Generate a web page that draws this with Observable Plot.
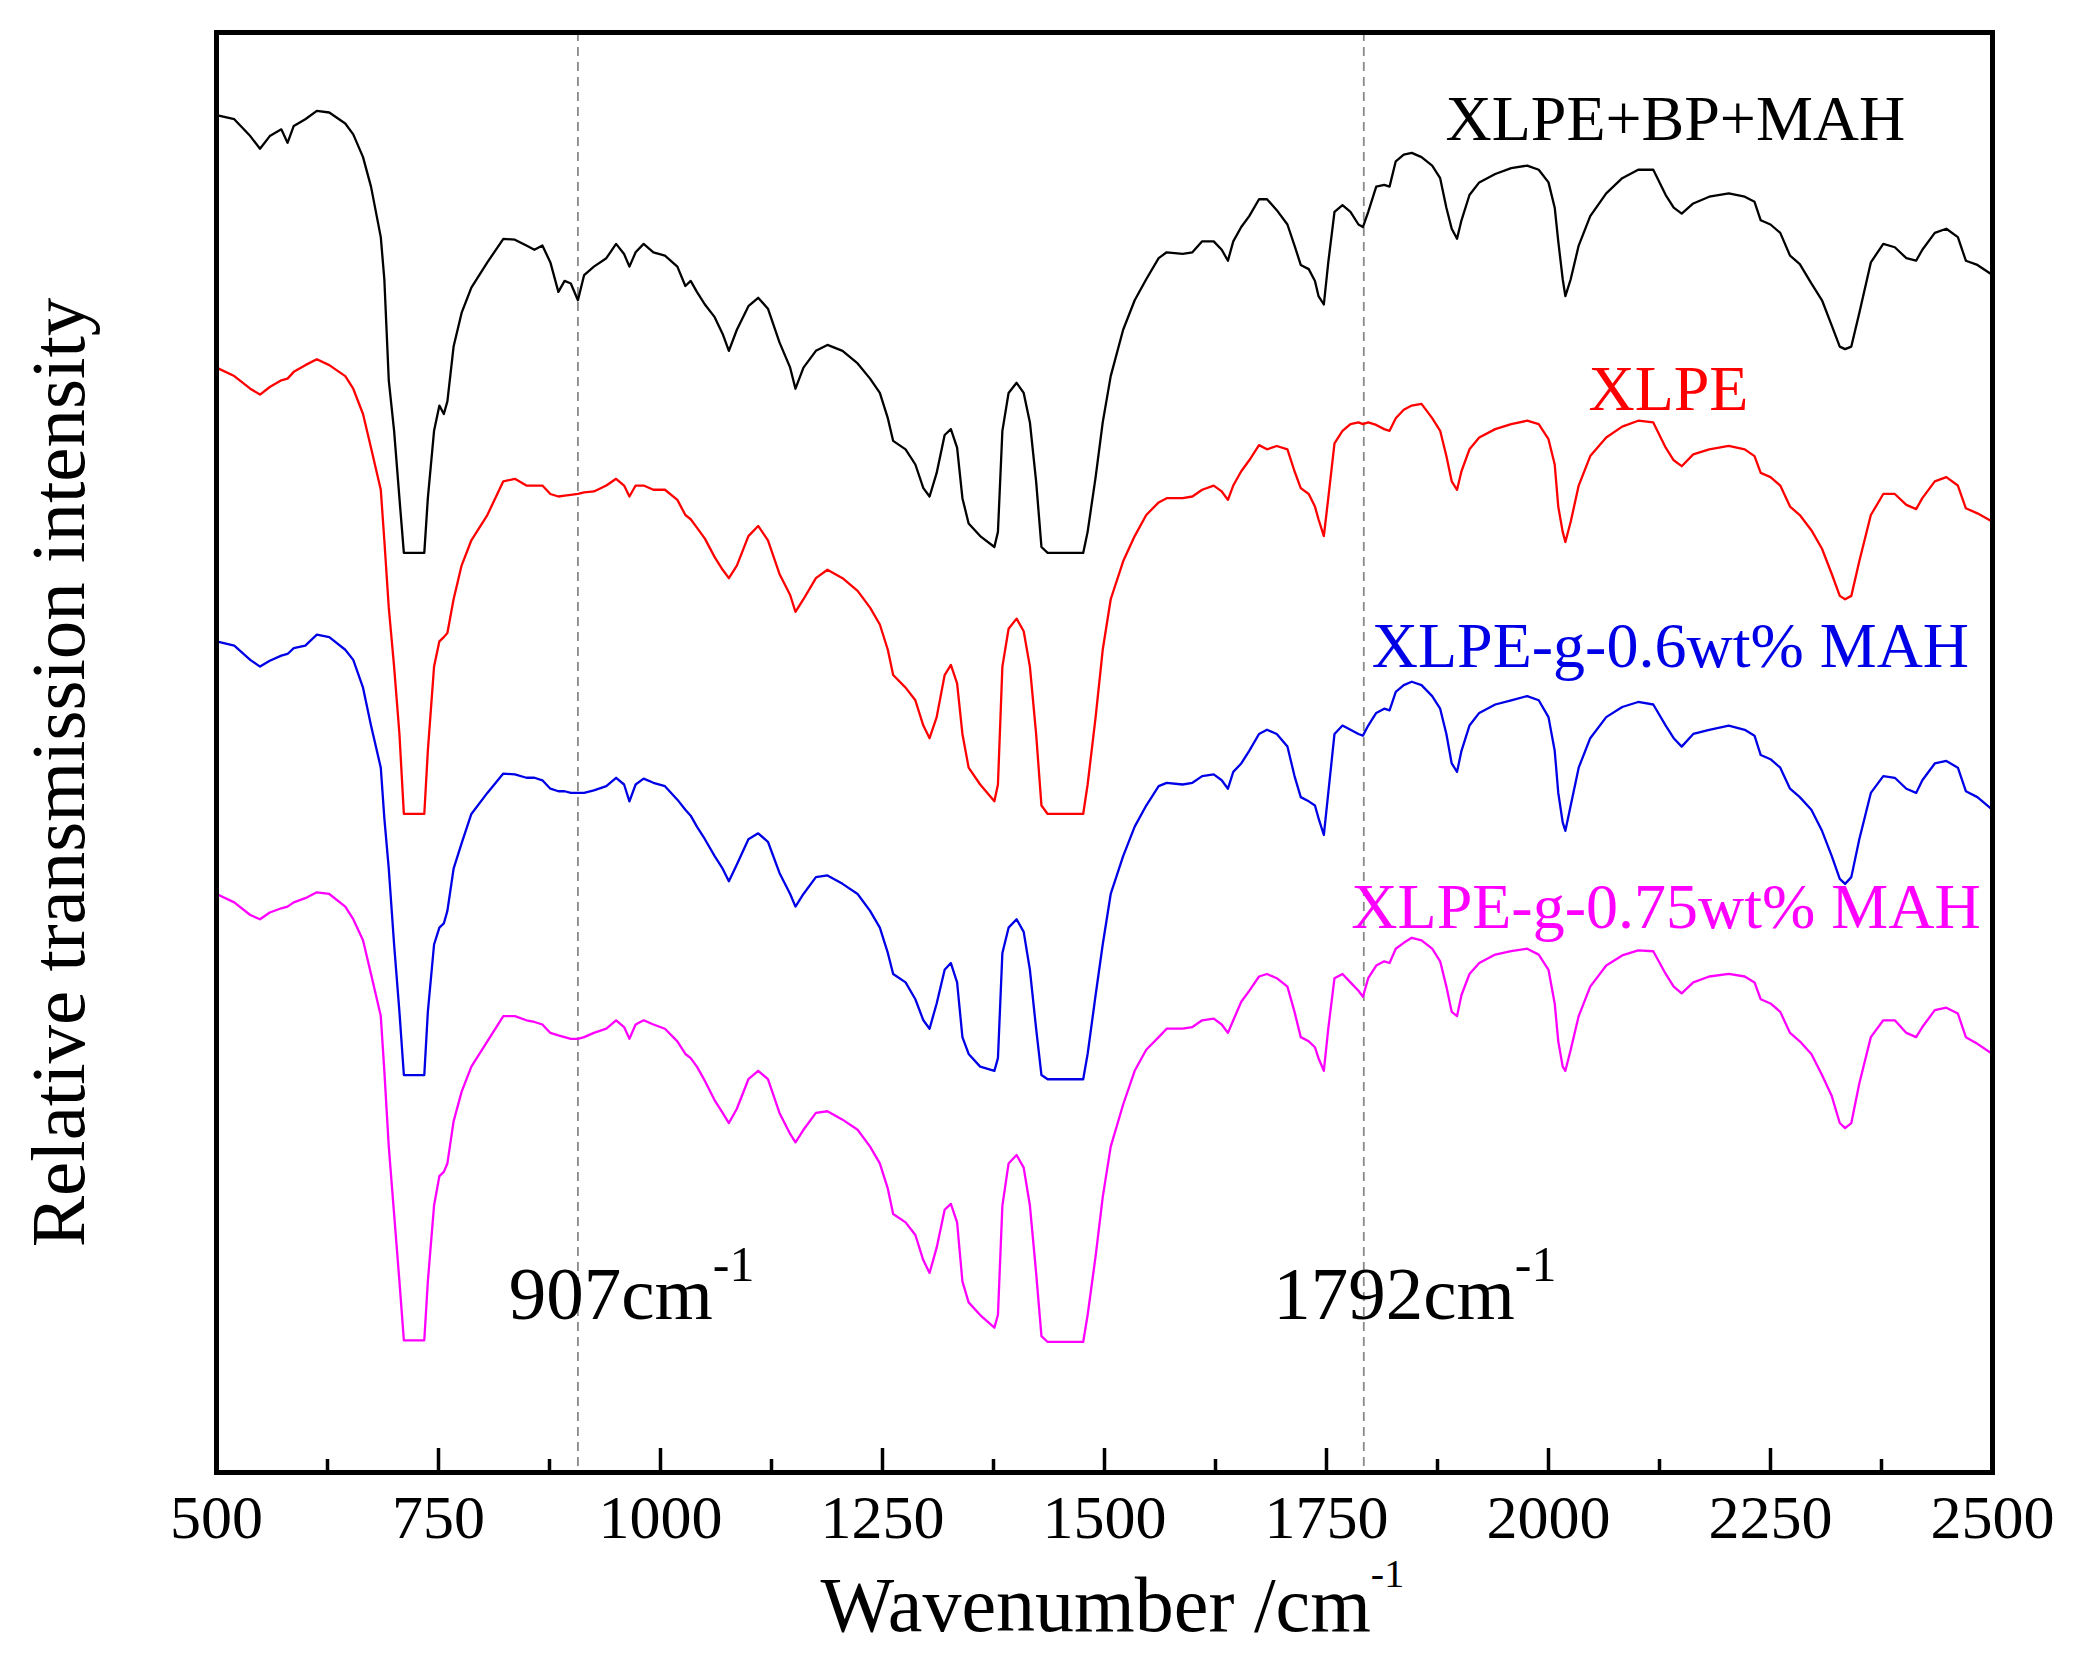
<!DOCTYPE html>
<html>
<head>
<meta charset="utf-8">
<script src="https://cdn.jsdelivr.net/npm/d3@7"></script>
<script src="https://cdn.jsdelivr.net/npm/@observablehq/plot@0.6"></script>
<style>
  html, body { margin: 0; padding: 0; background: #fff; }
  #chart svg { display: block; }
  #chart svg, #chart svg text { font-family: "Liberation Serif", "Times New Roman", serif !important; }
</style>
</head>
<body>
<div id="chart"></div>
<script>
// wavenumber grid (cm-1) shared by the four spectra
var wavenumber = [500,520,538,549,560,573,580,587,600,613,
  627,645,654,665,674,685,689,694,700,706,
  711,734,738,745,751,756,760,767,776,787,
  805,823,836,849,858,867,876,885,892,899,
  907,914,925,939,950,959,965,972,981,992,
  1005,1019,1028,1034,1041,1050,1061,1070,1077,1086,
  1099,1110,1121,1134,1146,1152,1161,1175,1188,
  1205,1222,1236,1247,1256,1262,1276,1287,1296,1303,
  1311,1320,1327,1334,1340,1347,1360,1376,1380,1385,
  1392,1401,1409,1416,1423,1429,1436,1476,1481,1490,
  1498,1507,1521,1534,1547,1561,1570,1588,1599,1610,
  1623,1632,1639,1645,1654,1663,1674,1683,1694,1706,
  1714,1721,1730,1737,1741,1747,1752,1759,1768,1777,
  1786,1791,1797,1806,1815,1821,1828,1837,1846,1857,
  1869,1878,1885,1891,1897,1902,1911,1922,1940,1958,
  1976,1989,2000,2007,2011,2016,2019,2025,2034,2047,
  2065,2083,2101,2118,2132,2141,2150,2163,2181,2203,
  2221,2232,2239,2250,2261,2272,2283,2296,2308,2319,
  2328,2334,2341,2350,2363,2377,2390,2403,2414,2421,
  2435,2448,2461,2470,2483,2500];

// relative transmission (arbitrary units, curves already offset)
var xlpeBpMah = [161.2,160.7,158.7,157.2,158.7,159.5,157.9,159.9,160.7,161.7,
  161.5,160.2,158.9,156.2,152.7,146.7,141.7,129.7,123.7,115.7,
  109.2,109.2,115.7,123.7,126.7,125.7,127.2,133.7,137.7,140.7,
  143.7,146.5,146.4,145.7,145.2,145.7,143.7,140.2,141.5,141.2,
  139.2,142.2,143.2,144.2,145.9,144.7,143.2,144.9,145.9,144.9,
  144.5,143.2,140.9,141.5,140.2,138.7,137.2,135.2,133.2,135.7,
  138.5,139.5,138.2,134.2,131.2,128.7,131.2,133.2,133.9,
  133.2,131.7,129.9,128.2,125.2,122.5,121.5,119.7,116.9,115.9,
  118.7,123.2,123.9,121.7,115.7,112.7,111.2,109.9,111.7,123.7,
  128.2,129.4,128.2,124.7,117.7,109.9,109.2,109.2,111.7,118.2,
  124.7,130.2,135.7,139.2,141.7,144.2,144.9,144.7,144.9,146.2,
  146.2,145.2,143.9,146.2,147.9,149.2,151.2,151.2,149.9,148.2,
  145.7,143.4,142.9,141.5,139.7,138.7,143.7,149.7,150.5,149.7,
  148.2,147.9,149.7,152.7,152.9,152.7,155.7,156.5,156.7,156.2,
  155.2,153.7,150.2,147.7,146.5,148.7,151.7,153.2,154.2,154.9,
  155.2,154.7,153.2,150.2,146.2,141.7,139.7,141.7,145.7,149.2,
  151.9,153.7,154.7,154.7,151.7,150.2,149.5,150.7,151.5,151.9,
  151.5,150.9,148.7,148.2,147.2,144.5,143.5,141.2,139.2,136.2,
  133.7,133.4,133.7,137.7,143.7,145.9,145.5,144.2,143.9,145.2,
  147.2,147.7,146.7,143.9,143.4,142.2];

var xlpe = [131.2,130.2,128.7,128.0,128.9,129.7,129.9,130.7,131.5,132.2,
  131.5,130.2,128.7,125.7,121.7,116.7,110.7,102.7,95.7,87.7,
  78.2,78.2,85.7,95.7,98.7,99.2,99.7,103.7,107.7,110.7,
  113.7,117.7,118.0,117.2,117.2,117.2,116.2,115.9,116.0,116.1,
  116.2,116.4,116.5,117.2,118.0,117.2,115.9,117.2,117.2,116.7,
  116.7,115.5,113.7,113.2,112.2,110.9,108.7,107.2,106.2,107.7,
  111.2,112.4,110.7,106.7,104.2,102.2,103.7,106.2,107.2,
  106.2,104.7,102.7,100.7,97.7,94.7,93.2,91.7,88.7,87.2,
  89.7,94.7,95.9,93.7,87.7,83.7,81.7,79.7,81.7,95.7,
  100.2,101.4,99.9,95.7,87.7,79.2,78.2,78.2,81.7,89.7,
  97.7,103.7,108.2,111.2,113.7,115.2,115.7,115.7,115.9,116.7,
  117.2,116.5,115.5,117.2,118.9,120.2,122.0,121.5,121.9,121.5,
  118.9,116.9,116.2,114.7,113.2,111.2,115.7,122.2,123.7,124.5,
  124.7,124.5,124.7,124.4,123.9,123.7,125.2,126.2,126.7,126.9,
  125.2,123.7,120.7,117.7,116.7,118.9,121.5,122.9,123.9,124.5,
  124.9,124.5,122.7,119.7,114.7,111.7,110.5,112.9,117.2,120.7,
  122.9,124.2,124.9,124.7,121.7,120.2,119.5,120.9,121.5,121.9,
  121.5,120.7,118.7,118.2,117.2,114.7,113.7,111.9,109.7,106.7,
  104.1,103.7,104.1,108.2,113.7,116.2,116.2,114.9,114.4,115.7,
  117.7,118.2,117.2,114.5,113.9,112.9];

var xlpeG06 = [98.7,98.2,96.5,95.7,96.4,97.0,97.2,97.9,98.2,99.5,
  99.2,97.7,96.5,93.2,88.7,83.7,77.7,71.7,62.7,54.7,
  47.2,47.2,54.7,62.7,64.7,65.2,66.7,71.7,74.7,78.2,
  80.7,83.0,82.9,82.5,82.5,82.2,81.2,80.9,80.9,80.7,
  80.7,80.7,81.0,81.5,82.5,81.7,79.7,81.7,82.4,81.9,
  81.5,79.9,78.7,78.0,76.7,75.2,73.2,71.7,70.2,72.2,
  75.2,75.9,74.9,71.2,68.7,67.2,68.7,70.7,70.9,
  69.9,68.7,66.7,64.7,61.7,59.2,58.2,56.2,53.7,52.7,
  55.7,59.7,60.5,58.2,51.7,49.7,48.2,47.7,49.2,61.7,
  64.7,65.7,64.2,59.7,52.7,47.2,46.7,46.7,49.7,56.7,
  62.7,68.7,73.2,76.7,79.2,81.5,81.9,81.7,81.9,82.7,
  82.9,82.2,81.2,83.2,84.2,85.7,87.7,88.2,87.7,86.2,
  82.7,80.2,79.7,79.2,77.7,75.7,80.7,87.7,88.7,88.2,
  87.7,87.5,88.7,90.2,90.7,90.5,92.7,93.5,93.9,93.5,
  92.2,90.7,87.7,84.2,83.2,85.7,88.7,90.2,91.2,91.7,
  92.2,91.7,89.7,85.7,80.7,77.2,76.2,79.2,83.7,87.2,
  89.7,90.9,91.5,91.2,88.7,87.2,86.2,87.7,88.2,88.7,
  88.2,87.5,85.2,84.7,83.7,81.2,80.2,78.7,76.2,73.2,
  70.5,69.9,70.7,75.2,80.7,82.7,82.5,81.2,80.7,82.2,
  84.2,84.5,83.7,80.9,80.2,78.7];

var xlpeG075 = [68.7,67.7,66.2,65.7,66.5,67.0,67.2,67.7,68.2,68.9,
  68.7,67.2,65.7,63.2,59.2,54.2,47.7,38.7,30.7,22.7,
  15.7,15.7,22.7,31.7,35.2,35.7,36.7,41.7,45.2,48.2,
  51.2,54.2,54.2,53.7,53.5,53.2,52.2,51.9,51.7,51.5,
  51.5,51.7,52.2,52.7,53.7,52.9,51.5,53.2,53.7,53.2,
  52.7,51.2,49.7,49.2,48.2,46.5,44.2,42.7,41.5,43.2,
  46.7,47.7,46.7,42.7,40.2,39.2,40.7,42.7,42.9,
  41.9,40.7,38.7,36.7,33.7,30.7,29.7,28.2,25.2,23.7,
  26.7,31.2,31.9,29.7,22.7,20.2,18.7,17.2,18.7,31.7,
  36.7,37.7,36.2,31.7,23.7,16.2,15.5,15.5,18.7,25.7,
  32.7,38.7,43.7,47.7,50.2,51.7,52.7,52.7,52.9,53.7,
  53.9,53.2,52.2,53.7,55.9,57.2,58.9,59.2,58.7,57.7,
  54.7,51.7,51.2,50.5,49.2,47.7,52.7,58.7,59.2,58.2,
  57.2,56.5,58.7,60.2,60.7,60.5,62.2,62.9,63.5,63.2,
  62.2,60.7,57.7,54.7,54.2,56.7,59.2,60.5,61.5,61.9,
  62.2,61.5,59.7,55.7,51.2,48.2,47.7,50.2,54.2,57.7,
  60.2,61.4,62.0,61.9,59.2,57.7,56.9,58.2,58.9,59.2,
  58.9,58.2,56.2,55.7,54.7,52.2,51.2,49.7,47.2,44.7,
  41.5,40.9,41.5,46.2,51.7,53.7,53.7,52.2,51.7,52.9,
  54.9,55.2,54.5,51.7,50.9,49.7];

var seriesNames = ["XLPE+BP+MAH", "XLPE", "XLPE-g-0.6wt% MAH", "XLPE-g-0.75wt% MAH"];
var seriesColors = ["#000000", "#ff0000", "#0000e6", "#ff00ff"];
// where each series name sits (wavenumber, intensity)
var labelX = [1884, 2045, 1801, 1778];
var labelY = [158.2, 126.2, 95.7, 64.7];

var markerLines = [907, 1792];
var markerText = ["907cm", "1792cm"];
var markerTextX = [829, 1690];
var markerTextY = [18.2, 18.2];

var majorTicks = [500, 750, 1000, 1250, 1500, 1750, 2000, 2250, 2500];
var minorTicks = [625, 875, 1125, 1375, 1625, 1875, 2125, 2375];

var xTitle = "Wavenumber /cm";
var yTitle = "Relative transmission intensity";

var serif = "'Liberation Serif', 'Times New Roman', serif";

var allSeries = [xlpeBpMah, xlpe, xlpeG06, xlpeG075];
var rows = [];
allSeries.forEach(function (vals, s) {
  wavenumber.forEach(function (w, i) {
    rows.push({ series: seriesNames[s], x: w, y: vals[i] });
  });
});

var plotH = 1661 - 32 - 189;

var chart = Plot.plot({
  width: 2086,
  height: 1661,
  marginLeft: 216,
  marginRight: 94,
  marginTop: 32,
  marginBottom: 189,
  style: { fontFamily: serif, background: "#fff", color: "#000" },
  x: { domain: [500, 2500] },
  y: { domain: [0, 171], axis: null },
  color: { domain: seriesNames, range: seriesColors },
  marks: [
    Plot.ruleX(markerLines, { stroke: "#8a8a8a", strokeWidth: 1.8, strokeDasharray: "9,6" }),
    Plot.line(rows, { x: "x", y: "y", z: "series", stroke: "series", strokeWidth: 2.3 }),
    Plot.ruleX(minorTicks, { insetTop: plotH - 13, stroke: "#000", strokeWidth: 3.5 }),
    Plot.ruleX(majorTicks, { insetTop: plotH - 24, stroke: "#000", strokeWidth: 3.5 }),
    Plot.axisX(majorTicks, { tickSize: 0, tickPadding: 21, fontSize: 62, fontFamily: serif, tickFormat: "d", label: null }),
    Plot.frame({ stroke: "#000", strokeWidth: 5 }),
    Plot.text(seriesNames, { x: labelX, y: labelY, text: function (d) { return d; }, fill: seriesNames,
      textAnchor: "start", lineAnchor: "bottom", fontSize: 64, fontFamily: serif }),
    Plot.text(markerText, { x: markerTextX, y: markerTextY, text: function (d) { return d; },
      textAnchor: "start", lineAnchor: "bottom", fontSize: 75, fontFamily: serif, fill: "#000" }),
    Plot.text([xTitle], { frameAnchor: "bottom", dx: -284, dy: 158, text: function (d) { return d; },
      textAnchor: "start", lineAnchor: "bottom", fontSize: 78, fontFamily: serif, fill: "#000" }),
    Plot.text([yTitle], { frameAnchor: "left", dx: -133, dy: 20, rotate: -90, text: function (d) { return d; },
      textAnchor: "middle", lineAnchor: "bottom", fontSize: 77, fontFamily: serif, fill: "#000" })
  ]
});

d3.select(chart).attr("font-family", serif);

// superscript "-1" after the cm units
var sup = {};
sup["907cm"] = [50, -38];
sup["1792cm"] = [50, -38];
sup[xTitle] = [40, -44];
d3.select(chart).selectAll("text").each(function () {
  var s = sup[this.textContent];
  if (s && this.childElementCount === 0) {
    d3.select(this).append("tspan")
      .attr("dy", s[1])
      .attr("font-size", s[0])
      .text("-1");
  }
});

document.getElementById("chart").append(chart);
</script>
</body>
</html>
